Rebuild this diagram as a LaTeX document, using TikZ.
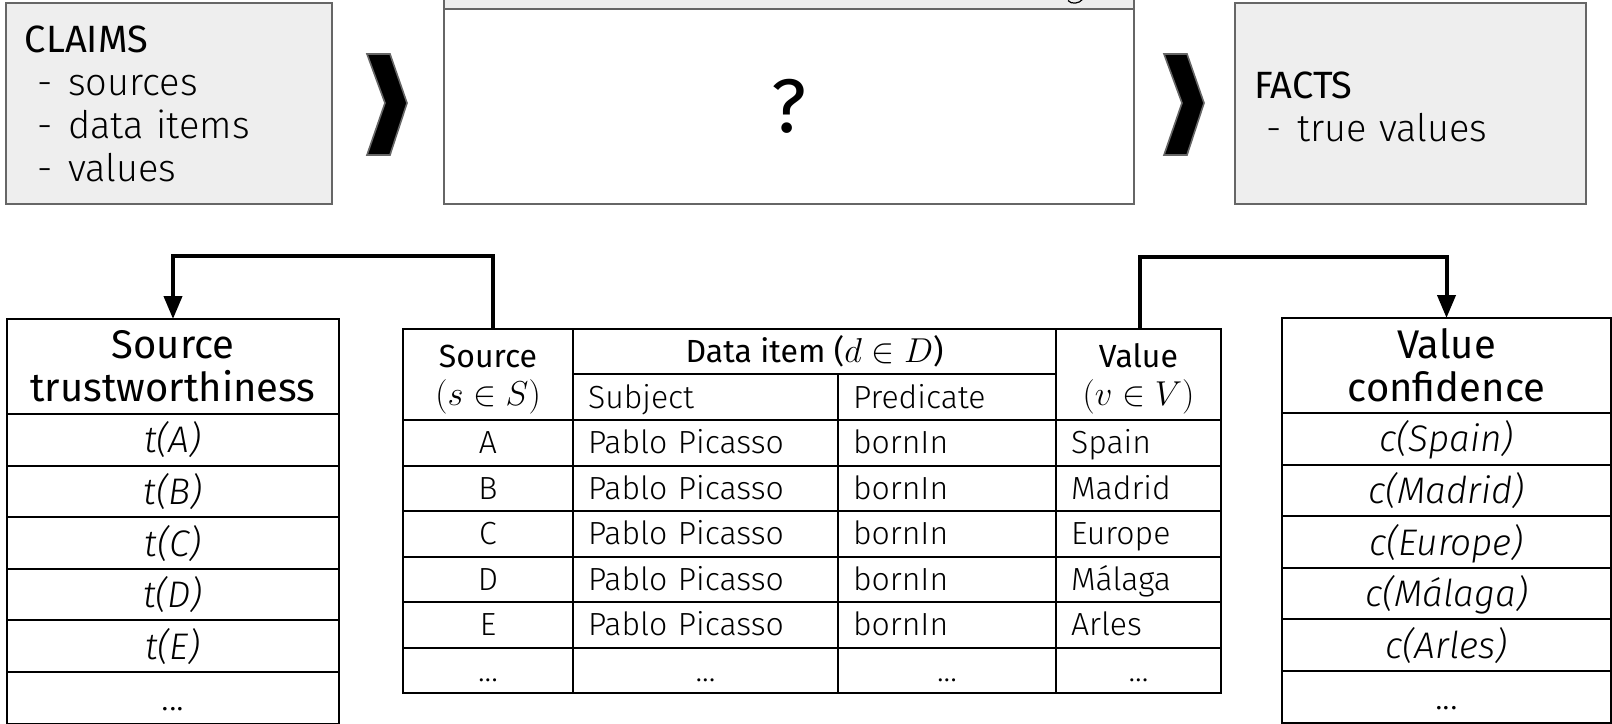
\documentclass[tikz,border=0pt]{standalone}
\usepackage{fontspec}
\setmainfont{Fira Sans Light}[ItalicFont={Fira Sans Light Italic}]
\newfontfamily\firareg{Fira Sans}
\usetikzlibrary{arrows.meta}

\definecolor{boxfill}{HTML}{EEEEEE}
\definecolor{boxline}{HTML}{666666}

\newcommand\panelfont{\fontsize{19}{21.5}\selectfont}
\newcommand\headfont{\firareg\fontsize{20}{21.5}\selectfont}
\newcommand\scorefont{\fontsize{18.5}{20}\selectfont\itshape}
\newcommand\tabfont{\fontsize{16}{17.5}\selectfont}
\newcommand\topstrut{\rule{0pt}{16pt}}

\tikzset{
  panel/.style={draw=boxline, fill=boxfill, line width=1pt, inner sep=0pt, outer sep=0pt, anchor=north west},
  cell/.style={draw, line width=1pt, inner sep=0pt, outer sep=0pt, anchor=north west, align=center},
  lcell/.style={cell, inner xsep=7.5pt, align=left},
  tabrow/.style={text height=14pt, text depth=3pt},
  scorerow/.style={text height=17pt, text depth=4pt},
  chevron/.style={fill=black, draw=boxline, line width=0.8pt},
  link/.style={-{Triangle[length=11.5pt,width=9pt]}, line width=2pt},
}

\begin{document}
\begin{tikzpicture}[x=0.5pt, y=-0.5pt]
	\useasboundingbox (0,0) rectangle (1612,723);
	\clip (0,0) rectangle (1612,723);

	% input / process / output
	\node[panel, minimum height=100.5pt, inner xsep=9.5pt, text width=144pt, align=left, font=\panelfont] (claims) at (6,3)
		{{\firareg CLAIMS}\\\hspace*{6pt}-\hspace{8pt}sources\\\hspace*{6pt}-\hspace{8pt}data items\\\hspace*{6pt}-\hspace{8pt}values};
	\node[panel, minimum width=345pt, minimum height=25pt, anchor=south west] (stage) at (444,9) {};
	\node[panel, fill=white, minimum width=345pt, minimum height=97.5pt, font=\firareg\fontsize{38}{40}\selectfont] (engine) at (444,9) {?};
	\draw[line width=0.6pt] (1068,0.5) .. controls (1071,4.5) and (1079,4) .. (1083,-1);
	\node[panel, minimum height=100.5pt, inner xsep=9.5pt, text width=156.5pt, align=left, font=\panelfont] (facts) at (1235,3)
		{{\firareg\rule{0pt}{17pt}FACTS}\\\hspace*{6pt}-\hspace{8pt}true values};

	\filldraw[chevron, shift={(367,54)}] (0,0) -- (23,0) -- (40,49) -- (23,101) -- (0,101) -- (18,49) -- cycle;
	\filldraw[chevron, shift={(1164,54)}] (0,0) -- (23,0) -- (40,49) -- (23,101) -- (0,101) -- (18,49) -- cycle;

	% source trustworthiness
	\node[cell, minimum width=166pt, minimum height=47.5pt, font=\headfont] (trust) at (7,319) {Source\\trustworthiness};
	\foreach \s [count=\i] in {A,B,C,D,E}
		\node[cell, scorerow, minimum width=166pt, minimum height=25.8pt, font=\scorefont] (trust\i) at (7,{414+(\i-1)*51.6}) {t(\s)};
	\node[cell, scorerow, minimum width=166pt, minimum height=25.8pt, font=\scorefont] (trust6) at (7,672) {\upshape...};

	% claims table
	\node[cell, minimum width=85pt, minimum height=45.5pt, font=\firareg\tabfont] (src) at (403,329) {\topstrut Source\\[1.5pt]$(s\in S)$};
	\node[cell, minimum width=241.5pt, minimum height=22.5pt, font=\firareg\tabfont] (item) at (573,329) {Data item ($d\in D$)};
	\node[lcell, tabrow, text width=117.5pt, minimum height=23pt, font=\tabfont] (subj) at (573,374) {Subject};
	\node[lcell, tabrow, text width=94pt, minimum height=23pt, font=\tabfont] (pred) at (838,374) {Predicate};
	\node[cell, minimum width=82.5pt, minimum height=45.5pt, font=\firareg\tabfont] (val) at (1056,329) {\topstrut Value\\[1.5pt]$(v\in V)$};
	\foreach \s/\v [count=\i] in {A/Spain,B/Madrid,C/Europe,D/Málaga,E/Arles} {
		\node[cell, tabrow, minimum width=85pt, minimum height=22.75pt, font=\tabfont] (src\i) at (403,{420+(\i-1)*45.5}) {\s};
		\node[lcell, tabrow, text width=117.5pt, minimum height=22.75pt, font=\tabfont] (subj\i) at (573,{420+(\i-1)*45.5}) {Pablo Picasso};
		\node[lcell, tabrow, text width=94pt, minimum height=22.75pt, font=\tabfont] (pred\i) at (838,{420+(\i-1)*45.5}) {bornIn};
		\node[lcell, tabrow, text width=67.5pt, minimum height=22.75pt, font=\tabfont] (val\i) at (1056,{420+(\i-1)*45.5}) {\v};
	}
	\node[cell, tabrow, minimum width=85pt, minimum height=22.75pt, font=\tabfont] (src6) at (403,647.5) {...};
	\node[cell, tabrow, minimum width=132.5pt, minimum height=22.75pt, font=\tabfont] (subj6) at (573,647.5) {...};
	\node[cell, tabrow, minimum width=109pt, minimum height=22.75pt, font=\tabfont] (pred6) at (838,647.5) {...};
	\node[cell, tabrow, minimum width=82.5pt, minimum height=22.75pt, font=\tabfont] (val6) at (1056,647.5) {...};

	% value confidence
	\node[cell, minimum width=164.5pt, minimum height=47.5pt, font=\headfont] (conf) at (1282,318) {Value\\confidence};
	\foreach \v [count=\i] in {Spain,Madrid,Europe,Málaga,Arles}
		\node[cell, scorerow, minimum width=164.5pt, minimum height=25.8pt, font=\scorefont] (conf\i) at (1282,{413+(\i-1)*51.6}) {c(\v)};
	\node[cell, scorerow, minimum width=164.5pt, minimum height=25.8pt, font=\scorefont] (conf6) at (1282,671) {\upshape...};

	\draw[link] ([xshift=2.5pt]src.north) -- ++(0,-73) -| (trust.north);
	\draw[link] ([xshift=0.75pt]val.north) -- ++(0,-72) -| (conf.north);
\end{tikzpicture}
\end{document}
